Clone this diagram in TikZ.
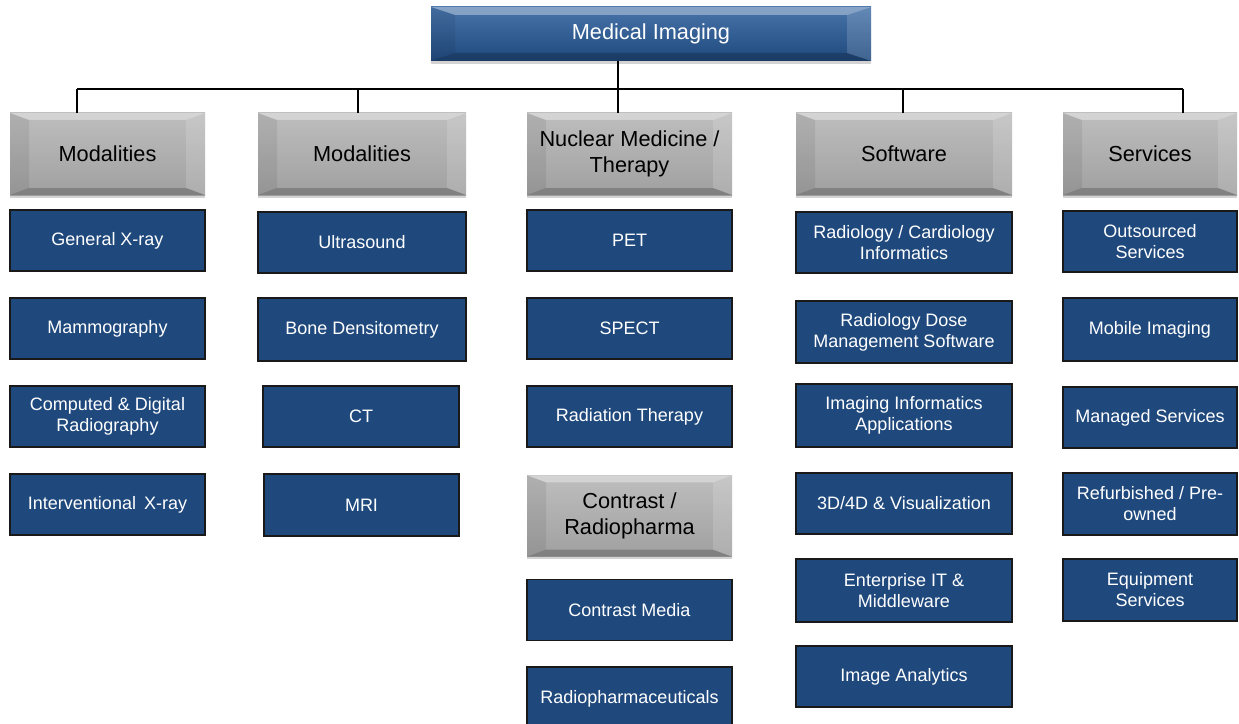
\documentclass[tikz,border=0pt]{standalone}
\usepackage{fontspec}
\setmainfont{Liberation Sans}
\usetikzlibrary{shadows}

\definecolor{boxblue}{RGB}{31,73,125}
\definecolor{topblue}{RGB}{72,116,170}
\definecolor{headgray}{RGB}{178,178,178}

\tikzset{
	facets/.style 2 args={path picture={
		\fill[white, opacity=0.35] (path picture bounding box.north west) -- (path picture bounding box.north east)
			-- ([xshift=-#1, yshift=-#2]path picture bounding box.north east) -- ([xshift=#1, yshift=-#2]path picture bounding box.north west) -- cycle;
		\fill[black, opacity=0.07] (path picture bounding box.north west) -- ([xshift=#1, yshift=-#2]path picture bounding box.north west)
			-- ([xshift=#1, yshift=#2]path picture bounding box.south west) -- (path picture bounding box.south west) -- cycle;
		\fill[white, opacity=0.15] (path picture bounding box.north east) -- ([xshift=-#1, yshift=-#2]path picture bounding box.north east)
			-- ([xshift=-#1, yshift=#2]path picture bounding box.south east) -- (path picture bounding box.south east) -- cycle;
		\fill[black, opacity=0.2] (path picture bounding box.south west) -- ([xshift=#1, yshift=#2]path picture bounding box.south west)
			-- ([xshift=-#1, yshift=#2]path picture bounding box.south east) -- (path picture bounding box.south east) -- cycle;
	}},
	rootbox/.style={rectangle, top color=topblue, bottom color=boxblue, text=white, facets={18pt}{6pt},
		drop shadow={shadow xshift=0pt, shadow yshift=-2pt, opacity=0.35},
		font=\fontsize{16.3}{19.5}\selectfont, align=center, inner sep=0pt},
	headbox/.style={rectangle, top color=headgray!85!white, bottom color=headgray!90!black, text=black, facets={14.25pt}{5.25pt},
		drop shadow={shadow xshift=0pt, shadow yshift=-2pt, opacity=0.35},
		font=\fontsize{16.3}{19.5}\selectfont, align=center, inner sep=0pt, minimum height=61.5pt},
	leaf/.style={rectangle, draw=black!90, line width=1.2pt, fill=boxblue, text=white,
		font=\fontsize{13.5}{15.8}\selectfont, align=center, inner sep=2pt, minimum height=45.75pt},
	bus/.style={line width=1.3pt}
}

\begin{document}
\begin{tikzpicture}[x=0.75pt, y=-0.75pt]
	\useasboundingbox (0,0) rectangle (1239,724);

	% top of the tree
	\node[rootbox, minimum width=330pt, minimum height=40.5pt] (root) at (651,34) {Medical Imaging};

	% headers
	\node[headbox, minimum width=146.25pt] (h1) at (107.5,154) {Modalities};
	\node[headbox, minimum width=156pt] (h2) at (362,154) {Modalities};
	\node[headbox, minimum width=153.75pt] (h3) at (629.5,154) {Nuclear Medicine /\\Therapy};
	\node[headbox, minimum width=162pt] (h4) at (904,154) {Software};
	\node[headbox, minimum width=130.5pt] (h5) at (1150,154) {Services};
	\node[headbox, minimum width=153.75pt, minimum height=61pt] (h3b) at (629.5,516) {Contrast /\\Radiopharma};

	% connectors
	\coordinate (hub) at (618,89);
	\coordinate (d1) at (77,89);
	\coordinate (d2) at (358,89);
	\coordinate (d4) at (903,89);
	\coordinate (d5) at (1183,89);
	\draw[bus] (d1) -- (d5);
	\draw[bus] (hub |- root.south) -- (hub |- h3.north);
	\draw[bus] (d1) -- (d1 |- h1.north);
	\draw[bus] (d2) -- (d2 |- h2.north);
	\draw[bus] (d4) -- (d4 |- h4.north);
	\draw[bus] (d5) -- (d5 |- h5.north);

	% column 1
	\node[leaf, minimum width=146.25pt] (a1) at (107.5,240.5) {General X-ray};
	\node[leaf, minimum width=146.25pt] (a2) at (107.5,328.5) {Mammography};
	\node[leaf, minimum width=146.25pt] (a3) at (107.5,416.5) {Computed \& Digital\\Radiography};
	\node[leaf, minimum width=146.25pt] (a4) at (107.5,504.5) {Interventional\, X-ray};

	% column 2
	\node[leaf, minimum width=156pt] (b1) at (362,242.5) {Ultrasound};
	\node[leaf, minimum width=156pt, minimum height=47.25pt] (b2) at (362,329.5) {Bone Densitometry};
	\node[leaf, minimum width=147pt] (b3) at (361,416.5) {CT};
	\node[leaf, minimum width=146.25pt, minimum height=46.5pt] (b4) at (361.5,505) {MRI};

	% column 3
	\node[leaf, minimum width=153.75pt] (c1) at (629.5,240.5) {PET};
	\node[leaf, minimum width=153.75pt] (c2) at (629.5,328.5) {SPECT};
	\node[leaf, minimum width=153.75pt] (c3) at (629.5,416.5) {Radiation Therapy};
	\node[leaf, minimum width=153.75pt] (c4) at (629.5,610) {Contrast Media};
	\node[leaf, minimum width=153.75pt, minimum height=47.25pt] (c5) at (629.5,698.5) {Radiopharmaceuticals};

	% column 4
	\node[leaf, minimum width=162pt] (s1) at (904,242.5) {Radiology / Cardiology\\Informatics};
	\node[leaf, minimum width=162pt, minimum height=46.5pt] (s2) at (904,332) {Radiology Dose\\Management Software};
	\node[leaf, minimum width=162pt, minimum height=47.25pt] (s3) at (904,415.5) {Imaging Informatics\\Applications};
	\node[leaf, minimum width=162pt] (s4) at (904,503.5) {3D/4D \& Visualization};
	\node[leaf, minimum width=162pt, minimum height=47.25pt] (s5) at (904,590.5) {Enterprise IT \&\\Middleware};
	\node[leaf, minimum width=162pt] (s6) at (904,676.5) {Image Analytics};

	% column 5
	\node[leaf, minimum width=130.5pt] (e1) at (1150,241.5) {Outsourced\\Services};
	\node[leaf, minimum width=130.5pt, minimum height=47.25pt] (e2) at (1150,329.5) {Mobile Imaging};
	\node[leaf, minimum width=130.5pt] (e3) at (1150,417.5) {Managed Services};
	\node[leaf, minimum width=130.5pt, minimum height=46.5pt] (e4) at (1150,504) {Refurbished / Pre-\\owned};
	\node[leaf, minimum width=130.5pt, minimum height=46.5pt] (e5) at (1150,590) {Equipment\\Services};
\end{tikzpicture}
\end{document}
